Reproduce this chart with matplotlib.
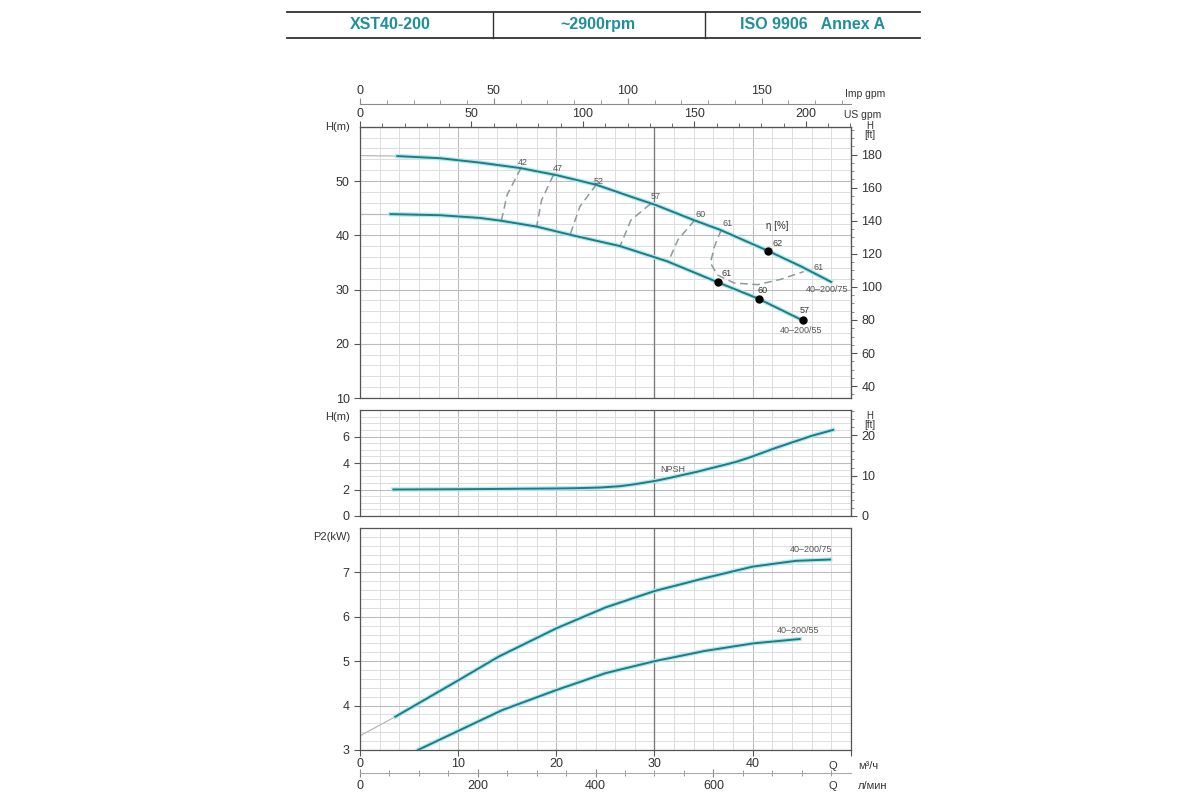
import numpy as np
import matplotlib
matplotlib.use('Agg')
import matplotlib.pyplot as plt
from matplotlib.ticker import MultipleLocator
from matplotlib.lines import Line2D

plt.rcParams['font.family'] = ['Liberation Sans', 'DejaVu Sans']

# --- data ---
# H-Q curves (m3/h, m)
q_h75 = [3.8, 8.2, 12.2, 16.3, 20.0, 24.1, 28.6, 30.1, 34.0, 36.7, 41.6, 45.0, 48.0]
h_h75 = [54.6, 54.2, 53.4, 52.4, 51.1, 49.3, 46.5, 45.6, 42.8, 41.0, 37.1, 34.2, 31.4]
q_h55 = [3.1, 8.2, 12.2, 14.3, 18.0, 21.4, 26.5, 31.3, 36.5, 40.6, 45.1]
h_h55 = [43.9, 43.7, 43.2, 42.7, 41.6, 40.1, 38.0, 35.2, 31.3, 28.3, 24.3]
h0_75 = 54.7
h0_55 = 43.9

# iso-efficiency lines (label, Q list, H list)
eff_lines = [
    ('42', [16.4, 15.0, 14.4], [52.4, 47.5, 42.7]),
    ('47', [19.7, 18.5, 18.0], [51.1, 46.5, 41.6]),
    ('52', [24.1, 22.4, 21.4], [49.4, 45.3, 40.1]),
    ('57', [29.6, 27.6, 26.5], [45.8, 42.8, 38.0]),
    ('60', [34.1, 32.4, 31.4], [42.8, 39.2, 35.1]),
    ('61', [36.8, 36.1, 35.7, 36.4, 38.1, 40.5, 42.9, 45.2],
           [41.0, 37.9, 34.9, 32.7, 31.2, 30.9, 31.9, 33.3]),
]
eff_label_q = [16.6, 20.2, 24.3, 30.1, 34.7, 37.4]
eff_label_h = [53.4, 52.3, 50.0, 47.1, 43.9, 42.2]

# efficiency points
pt_q = [41.6, 36.5, 40.6, 45.1]
pt_h = [37.1, 31.3, 28.3, 24.3]
pt_lab = ['62', '61', '60', '57']
pt_lab_q = [42.5, 37.3, 41.0, 45.3]
pt_lab_h = [38.4, 32.9, 29.9, 26.1]

# NPSH
q_npsh = [3.4, 10, 15, 20, 22, 24.5, 26.5, 28, 30.1, 32, 34.4, 36, 38.3, 40, 42.2, 44, 46.1, 48.2]
npsh = [2.0, 2.02, 2.05, 2.08, 2.1, 2.15, 2.25, 2.4, 2.65, 2.95, 3.35, 3.65, 4.08, 4.5, 5.1, 5.55, 6.07, 6.5]

# power P2 (kW)
q_p75 = [3.6, 10.1, 14.1, 20.0, 25.0, 30.0, 35.1, 40.0, 44.4, 47.9]
p_p75 = [3.75, 4.58, 5.10, 5.74, 6.21, 6.58, 6.87, 7.13, 7.26, 7.29]
p0_75 = 3.32
q_p55 = [5.9, 10.1, 14.5, 20.0, 25.0, 30.0, 35.1, 40.0, 44.8]
p_p55 = [3.0, 3.44, 3.90, 4.35, 4.73, 5.0, 5.23, 5.40, 5.50]

teal = '#1e7c84'
glow = '#b4e8ee'
grid_minor = '#dddddd'
grid_major = '#bcbcbc'
txt = '#333333'
lab = '#555555'

fig = plt.figure(figsize=(12, 8), dpi=100)
fig.patch.set_facecolor('white')

# header table
for yy in [0.985, 0.9525]:
    fig.add_artist(Line2D([0.239, 0.767], [yy, yy], color='#333333', lw=1.3))
for xx in [0.411, 0.5875]:
    fig.add_artist(Line2D([xx, xx], [0.9525, 0.985], color='#333333', lw=1.0))
hdr_col = '#1f8f9b'
fig.text(0.325, 0.969, 'XST40-200', ha='center', va='center', color=hdr_col, fontsize=11.5, fontweight='bold')
fig.text(0.4985, 0.970, '~2900rpm', ha='center', va='center', color=hdr_col, fontsize=11.5, fontweight='bold')
fig.text(0.677, 0.969, 'ISO 9906   Annex A', ha='center', va='center', color=hdr_col, fontsize=11.5, fontweight='bold')

left, width = 0.300, 0.409
ax1 = fig.add_axes([left, 0.5025, width, 0.339])
ax2 = fig.add_axes([left, 0.355, width, 0.1325])
ax3 = fig.add_axes([left, 0.0625, width, 0.2775])


def style(ax, ymin, ymax, ymaj, ymin_step, yticks):
    ax.set_xlim(0, 50)
    ax.set_ylim(ymin, ymax)
    ax.xaxis.set_major_locator(MultipleLocator(10))
    ax.xaxis.set_minor_locator(MultipleLocator(2))
    ax.yaxis.set_major_locator(MultipleLocator(ymaj))
    ax.yaxis.set_minor_locator(MultipleLocator(ymin_step))
    ax.grid(which='minor', color=grid_minor, lw=0.7)
    ax.grid(which='major', color=grid_major, lw=0.8)
    ax.axvline(30, color='#777777', lw=0.9, zorder=1)
    ax.set_axisbelow(True)
    ax.tick_params(which='minor', length=0)
    ax.tick_params(axis='x', which='major', length=0, labelbottom=False)
    ax.tick_params(axis='y', which='major', length=4, color='#555555', labelsize=9, labelcolor=txt)
    ax.set_yticks(yticks)
    ax.yaxis.set_minor_locator(MultipleLocator(ymin_step))
    for s in ax.spines.values():
        s.set_color('#555555')
        s.set_linewidth(0.9)


style(ax1, 10, 60, 10, 2, [10, 20, 30, 40, 50])
style(ax2, 0, 8, 2, 0.5, [0, 2, 4, 6])
style(ax3, 3, 8, 1, 0.2, [3, 4, 5, 6, 7])

# ---- top panel: H-Q ----
ax1.plot([0, q_h75[0]], [h0_75, h_h75[0]], color='#b9b9b9', lw=0.9, zorder=2)
ax1.plot([0, q_h55[0]], [h0_55, h_h55[0]], color='#b9b9b9', lw=0.9, zorder=2)
for q, h in [(q_h75, h_h75), (q_h55, h_h55)]:
    ax1.plot(q, h, color=glow, lw=3.2, zorder=3, solid_joinstyle='round')
    ax1.plot(q, h, color=teal, lw=1.4, zorder=4, solid_joinstyle='round')

for (name, q, h), lq, lh in zip(eff_lines, eff_label_q, eff_label_h):
    ax1.plot(q, h, color='#8c9a9c', lw=1.1, ls=(0, (5, 3)), zorder=3)
    ax1.text(lq, lh, name, fontsize=6.5, color=lab, ha='center', va='center')
ax1.text(46.7, 34.0, '61', fontsize=6.5, color=lab, ha='center', va='center')
ax1.text(42.5, 41.7, 'η [%]', fontsize=7, color=txt, ha='center', va='center')

ax1.plot(pt_q, pt_h, 'o', color='black', ms=5, zorder=5)
for s, lq, lh in zip(pt_lab, pt_lab_q, pt_lab_h):
    ax1.text(lq, lh, s, fontsize=6.5, color=txt, ha='center', va='center')
ax1.text(47.6, 30.0, '40–200/75', fontsize=6.5, color=lab, ha='center', va='center')
ax1.text(44.9, 22.4, '40–200/55', fontsize=6.5, color=lab, ha='center', va='center')
ax1.text(-0.02, 1.0, 'H(m)', transform=ax1.transAxes, ha='right', va='center', fontsize=8, color=txt)

# gpm axes on top
m3h_to_us = 1000 / 3.78541 / 60
m3h_to_imp = 1000 / 4.54609 / 60
sec_us = ax1.secondary_xaxis('top', functions=(lambda q: q * m3h_to_us, lambda g: g / m3h_to_us))
sec_us.set_xticks([0, 50, 100, 150, 200])
sec_us.xaxis.set_minor_locator(MultipleLocator(10))
sec_us.tick_params(which='major', length=4, labelsize=9, labelcolor=txt, color='#555555', pad=1)
sec_us.tick_params(which='minor', length=3, color='#555555')
sec_us.spines['top'].set_color('#555555')

sec_imp = ax1.secondary_xaxis(1.085, functions=(lambda q: q * m3h_to_imp, lambda g: g / m3h_to_imp))
sec_imp.set_xticks([0, 50, 100, 150])
sec_imp.xaxis.set_minor_locator(MultipleLocator(10))
sec_imp.tick_params(which='major', length=4, labelsize=9, labelcolor=txt, color='#8a8a8a', pad=1)
sec_imp.tick_params(which='minor', length=3, color='#8a8a8a')
for s in sec_imp.spines.values():
    s.set_color('#8a8a8a')
ax1.text(1.03, 1.085 + 0.035, 'Imp gpm', transform=ax1.transAxes, ha='center', va='center', fontsize=7.5, color=txt)
ax1.text(1.025, 1.045, 'US gpm', transform=ax1.transAxes, ha='center', va='center', fontsize=7.5, color=txt)

# feet on right
sec_ft = ax1.secondary_yaxis('right', functions=(lambda m: m / 0.3048, lambda f: f * 0.3048))
sec_ft.set_yticks([40, 60, 80, 100, 120, 140, 160, 180])
sec_ft.yaxis.set_minor_locator(MultipleLocator(5))
sec_ft.tick_params(which='major', length=4, labelsize=9, labelcolor=txt, color='#555555')
sec_ft.tick_params(which='minor', length=2.5, color='#777777')
sec_ft.spines['right'].set_color('#555555')
ax1.text(1.038, 0.985, 'H\n[ft]', transform=ax1.transAxes, ha='center', va='center', fontsize=7, color=txt, linespacing=0.85)

# ---- middle panel: NPSH ----
ax2.plot(q_npsh, npsh, color=glow, lw=3.2, zorder=3, solid_joinstyle='round')
ax2.plot(q_npsh, npsh, color=teal, lw=1.4, zorder=4, solid_joinstyle='round')
ax2.text(31.9, 3.5, 'NPSH', fontsize=6.5, color=lab, ha='center', va='center')
ax2.text(-0.02, 0.93, 'H(m)', transform=ax2.transAxes, ha='right', va='center', fontsize=8, color=txt)
sec_ft2 = ax2.secondary_yaxis('right', functions=(lambda m: m / 0.3048, lambda f: f * 0.3048))
sec_ft2.set_yticks([0, 10, 20])
sec_ft2.yaxis.set_minor_locator(MultipleLocator(2))
sec_ft2.tick_params(which='major', length=4, labelsize=9, labelcolor=txt, color='#555555')
sec_ft2.tick_params(which='minor', length=2.5, color='#777777')
sec_ft2.spines['right'].set_color('#555555')
ax2.text(1.038, 0.90, 'H\n[ft]', transform=ax2.transAxes, ha='center', va='center', fontsize=7, color=txt, linespacing=0.85)

# ---- bottom panel: P2 ----
ax3.plot([0, q_p75[0]], [p0_75, p_p75[0]], color='#b9b9b9', lw=0.9, zorder=2)
for q, p in [(q_p75, p_p75), (q_p55, p_p55)]:
    ax3.plot(q, p, color=glow, lw=3.2, zorder=3, solid_joinstyle='round')
    ax3.plot(q, p, color=teal, lw=1.4, zorder=4, solid_joinstyle='round')
ax3.text(46.0, 7.52, '40–200/75', fontsize=6.5, color=lab, ha='center', va='center')
ax3.text(44.6, 5.69, '40–200/55', fontsize=6.5, color=lab, ha='center', va='center')
ax3.text(-0.02, 0.96, 'P2(kW)', transform=ax3.transAxes, ha='right', va='center', fontsize=8, color=txt)

ax3.set_xticks([0, 10, 20, 30, 40, 50])
ax3.set_xticklabels(['0', '10', '20', '30', '40', ''])
ax3.tick_params(axis='x', which='major', length=4, direction='out', color='#555555',
                labelbottom=True, labelsize=9, labelcolor=txt, pad=2)
ax3.text(48.2, -0.07, 'Q', transform=ax3.get_xaxis_transform(), ha='center', va='center', fontsize=8, color=txt)
ax3.text(1.015, -0.07, 'м³/ч', transform=ax3.transAxes, ha='left', va='center', fontsize=8, color=txt)

sec_l = ax3.secondary_xaxis(-0.105, functions=(lambda q: q * 1000 / 60, lambda l: l * 60 / 1000))
sec_l.set_xticks([0, 200, 400, 600])
sec_l.xaxis.set_minor_locator(MultipleLocator(50))
sec_l.tick_params(which='major', direction='inout', length=6, labelsize=9, labelcolor=txt, color='#8a8a8a', pad=2)
sec_l.tick_params(which='minor', direction='inout', length=5, color='#8a8a8a')
for s in sec_l.spines.values():
    s.set_color('#aaaaaa')
ax3.text(48.2, -0.16, 'Q', transform=ax3.get_xaxis_transform(), ha='center', va='center', fontsize=8, color=txt)
ax3.text(1.015, -0.16, 'л/мин', transform=ax3.transAxes, ha='left', va='center', fontsize=8, color=txt)

fig.savefig('out.png', dpi=100, facecolor='white')
